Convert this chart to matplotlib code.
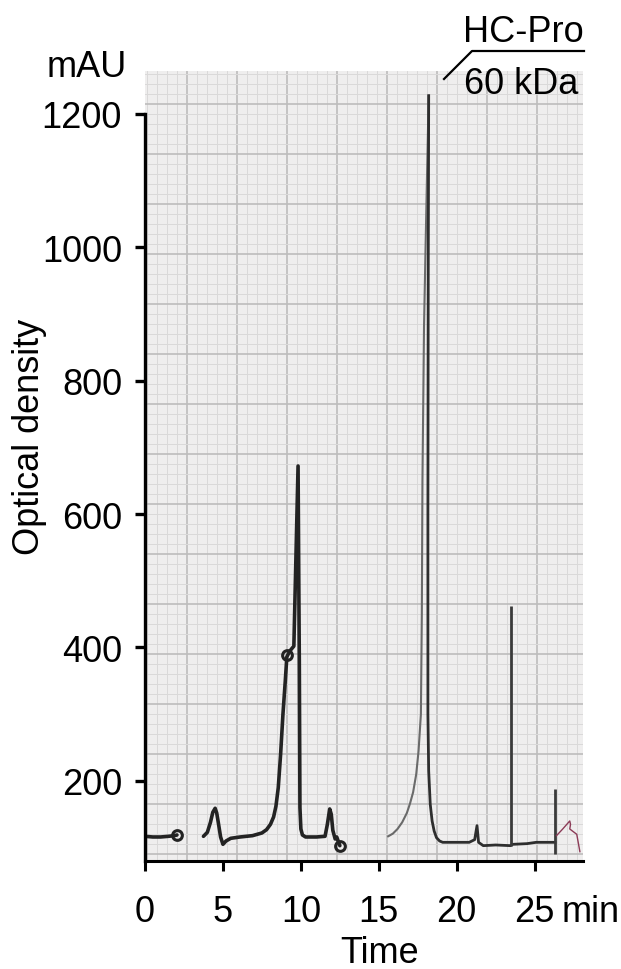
import matplotlib
matplotlib.use("Agg")
import matplotlib.pyplot as plt
from matplotlib.lines import Line2D
from matplotlib.ticker import MultipleLocator

# chart recorder trace (time in min, optical density in mAU)
start_t = [0.0, 0.5, 1.0, 1.5, 1.9, 2.05]
start_od = [117, 116, 116, 117, 118, 119]

early_t = [3.75, 4.0, 4.2, 4.35, 4.5, 4.6, 4.7, 4.85, 5.0, 5.2, 5.5, 6.1, 6.9,
           7.5, 7.8, 8.05, 8.25, 8.4, 8.55, 8.7, 8.85, 9.0, 9.1, 9.3, 9.55,
           9.82, 9.9, 9.94, 10.0, 10.1, 10.3, 11.0, 11.55, 11.7, 11.85, 11.95,
           12.05, 12.2, 12.3, 12.5]
early_od = [117, 123, 138, 153, 159, 152, 138, 116, 105, 110, 114, 116, 118,
            122, 127, 135, 146, 162, 190, 240, 300, 350, 386, 395, 402,
            672, 380, 160, 128, 119, 116, 116, 117, 135, 158, 150,
            126, 113, 116, 103]

# faint pen stroke on the leading edge of the HC-Pro peak
hcpro_rise_t = [15.6, 15.9, 16.2, 16.5, 16.8, 17.0, 17.2, 17.4, 17.55, 17.7,
                17.76, 17.8, 17.9, 18.0, 18.1, 18.2]
hcpro_rise_od = [117, 121, 128, 138, 152, 166, 183, 210, 245, 300,
                 450, 650, 880, 1000, 1115, 1227]

# trailing edge from the apex, then the baseline to the end of the run
hcpro_fall_t = [18.2, 18.17, 18.15, 18.15, 18.2, 18.3, 18.42, 18.55, 18.7,
                18.9, 19.1, 20.0, 20.8, 21.15, 21.3, 21.4, 21.7, 22.5, 23.45,
                23.6, 24.5, 25.1, 26.3]
hcpro_fall_od = [1227, 950, 600, 300, 215, 165, 140, 125, 115,
                 110, 108, 108, 108, 112, 133, 108, 103, 104, 103,
                 105, 106, 108, 108]

spike_t = [23.5, 26.3]
spike_low = [103, 90]
spike_high = [462, 188]

pen_dots_t = [2.05, 9.1, 12.5]
pen_dots_od = [119, 388, 103]

scribble_t = [26.4, 26.8, 27.25, 27.3, 27.25, 27.7, 27.9]
scribble_od = [118, 128, 140, 135, 128, 120, 94]

x_ticks = [0, 5, 10, 15, 20, 25]
y_ticks = [200, 400, 600, 800, 1000, 1200]

plt.rcParams["font.family"] = ["Liberation Sans", "DejaVu Sans"]
FS = 26

fig = plt.figure(figsize=(6.21, 9.70), dpi=100)
rect = [145 / 621, 1 - 862 / 970, 438 / 621, 790 / 970]

# graph paper backdrop
paper = fig.add_axes(rect, zorder=0)
paper.set_facecolor("#efeeee")
paper.set_xlim(-4.2, 39.6)
paper.set_ylim(-75.7, 3.3)
paper.xaxis.set_major_locator(MultipleLocator(5))
paper.xaxis.set_minor_locator(MultipleLocator(1))
paper.yaxis.set_major_locator(MultipleLocator(5))
paper.yaxis.set_minor_locator(MultipleLocator(1))
paper.grid(which="minor", color="#dad9d9", lw=0.7)
paper.grid(which="major", color="#bdbcbc", lw=1.2)
paper.tick_params(which="both", length=0, labelbottom=False, labelleft=False)
for s in paper.spines.values():
    s.set_visible(False)

ax = fig.add_axes(rect, zorder=1)
ax.patch.set_alpha(0)

dark = "#232323"
ax.plot(start_t, start_od, color=dark, lw=2.6, solid_capstyle="round")
ax.plot(early_t, early_od, color=dark, lw=2.6, solid_joinstyle="round",
        solid_capstyle="round")
ax.plot(hcpro_rise_t, hcpro_rise_od, color="#6a6a6a", lw=1.5)
ax.plot(hcpro_fall_t, hcpro_fall_od, color="#2e2e2e", lw=2.0, solid_joinstyle="round")
ax.vlines(spike_t, spike_low, spike_high, color="#3a3a3a", lw=2.0)
ax.plot(pen_dots_t, pen_dots_od, "o", ms=7, mfc="none", mec=dark, mew=2.2)
ax.plot(scribble_t, scribble_od, color="#8c3b57", lw=1.0)

ax.set_xlim(0, 28.1)
ax.set_ylim(80, 1264)
ax.set_xticks(x_ticks)
ax.set_yticks(y_ticks)
ax.spines["top"].set_visible(False)
ax.spines["right"].set_visible(False)
ax.spines["left"].set_bounds(80, 1200)
ax.spines["left"].set_linewidth(2.4)
ax.spines["bottom"].set_linewidth(2.2)
ax.tick_params(axis="y", length=7.5, width=2.4, labelsize=FS, pad=9)
ax.tick_params(axis="x", length=7.5, width=2.2, labelsize=FS, pad=16)

fig.text(127 / 621, 1 - 77 / 970, "mAU", fontsize=FS, ha="right", va="baseline")
fig.text(30 / 621, 1 - 437 / 970, "Optical density", fontsize=FS, rotation=90,
         ha="center", va="center")
fig.text(380 / 621, 1 - 963 / 970, "Time", fontsize=FS, ha="center", va="baseline")
fig.text(562 / 621, 1 - 922 / 970, "min", fontsize=FS, ha="left", va="baseline")

# HC-Pro label with leader line
fig.text(584 / 621, 1 - 42 / 970, "HC-Pro", fontsize=FS, ha="right", va="baseline")
fig.text(578 / 621, 1 - 94 / 970, "60 kDa", fontsize=FS, ha="right", va="baseline")
fig.add_artist(Line2D([444 / 621, 472 / 621, 584 / 621],
                      [1 - 80 / 970, 1 - 52 / 970, 1 - 52 / 970],
                      transform=fig.transFigure, color="black", lw=1.6))

fig.savefig("out.png", dpi=100)
